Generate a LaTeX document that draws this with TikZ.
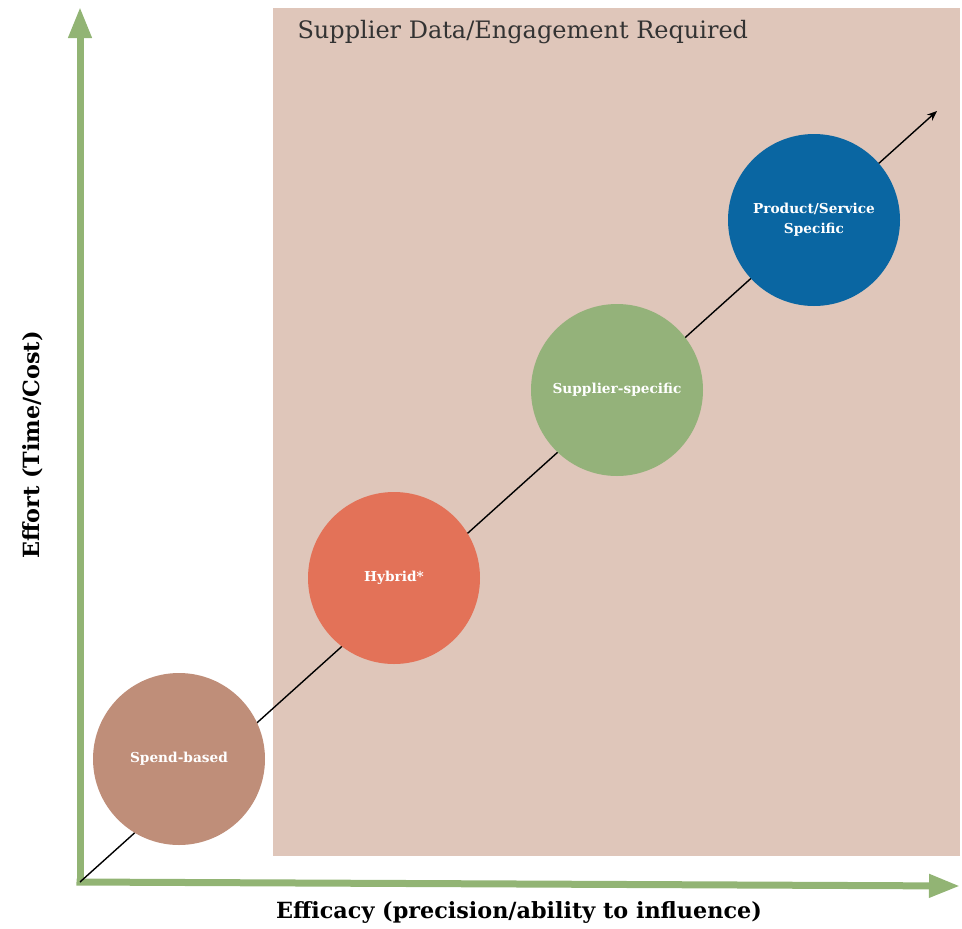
\documentclass[tikz,border=0pt]{standalone}
\usepackage{fontspec}
\setmainfont{DejaVu Serif}
\usetikzlibrary{arrows.meta}
\definecolor{zonefill}{HTML}{DFC6BA}
\definecolor{axisgreen}{HTML}{92B474}
\definecolor{spendc}{HTML}{BF8E79}
\definecolor{hybridc}{HTML}{E37258}
\definecolor{supplierc}{HTML}{94B27A}
\definecolor{productc}{HTML}{0A66A2}
\begin{document}
\begin{tikzpicture}[x=1pt,y=-1pt,
  axisline/.style={draw=axisgreen,line width=7pt,-{Triangle[length=31pt,width=22pt]}},
  method/.style={circle,minimum size=172pt,inner sep=0pt,text=white,align=center,
    font=\fontsize{13.7}{20}\selectfont\bfseries},
  axislabel/.style={font=\fontsize{22.3}{26}\selectfont\bfseries,text=black}]
\useasboundingbox (0,0) rectangle (962,929);
% region where supplier data is needed
\fill[zonefill] (273,8) rectangle (960,856);
\node[anchor=west,font=\fontsize{24}{28}\selectfont,text=black!80] (zonetitle) at (294,32) {Supplier Data/Engagement Required};
% axes
\coordinate (origin) at (80,882);
\coordinate (ytip) at (80,7);
\coordinate (xtip) at (960,886);
\coordinate (trendtip) at (937,111);
\draw[axisline] ([yshift=3.5pt]origin) -- (ytip);
\draw[axisline] ([xshift=-3.5pt]origin) -- (xtip);
% trend line through the methods
\draw[line width=1.4pt,-{Stealth[length=10pt,width=8pt]}] (origin) -- (trendtip);
% methods
\node[method,fill=spendc] (spend) at (179,759) {Spend-based};
\node[method,fill=hybridc] (hybrid) at (394,578) {Hybrid*};
\node[method,fill=supplierc] (supplier) at (617,390) {Supplier-specific};
\node[method,fill=productc] (product) at (814,220) {Product/Service\\Specific};
% axis labels
\node[axislabel,rotate=90] (ylabel) at (33,445) {Effort (Time/Cost)};
\node[axislabel] (xlabel) at (519,912) {Efficacy (precision/ability to influence)};
\end{tikzpicture}
\end{document}
